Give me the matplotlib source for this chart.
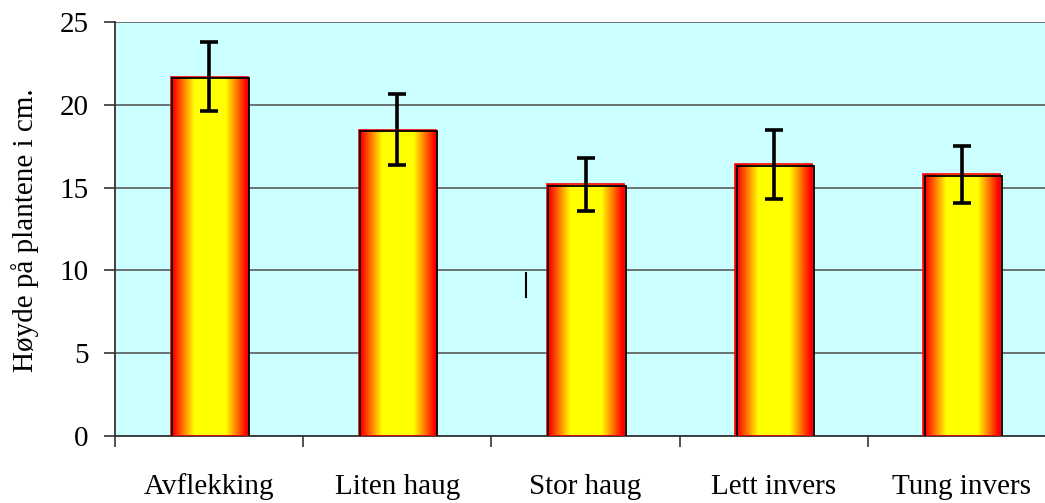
import numpy as np
import matplotlib
matplotlib.use("Agg")
import matplotlib.pyplot as plt
from matplotlib.colors import LinearSegmentedColormap
from matplotlib.patches import Rectangle
import matplotlib.transforms as mtransforms

categories = ["Avflekking", "Liten haug", "Stor haug", "Lett invers", "Tung invers"]
heights = [21.7, 18.5, 15.2, 16.4, 15.8]
errors = [2.1, 2.15, 1.6, 2.1, 1.7]
y_ticks = [0, 5, 10, 15, 20, 25]
stray_mark_x = 1.686
stray_mark_y = [8.4, 9.85]

plt.rcParams['font.family'] = ['Liberation Serif', 'DejaVu Serif']

fig = plt.figure(figsize=(10.45, 5.03), dpi=100)
ax = fig.add_axes([115/1045, 67/503, 941/1045, 414/503])
ax.set_facecolor('#CCFFFF')

x = np.arange(len(categories))
width = 0.41

cmap = LinearSegmentedColormap.from_list('rg', ['#FF0000', '#FF8000', '#FFFF00'])
t = np.linspace(0, 1, 256)
prof = 1 - np.abs(2 * t - 1)
grad = np.clip((prof - 0.06) / 0.54, 0, 1)[None, :]

bars = ax.bar(x, heights, width=width, facecolor='none', edgecolor='#FF0000',
              linewidth=1.2, zorder=3)
for b in bars:
    x0, y0 = b.get_x(), b.get_y()
    w, h = b.get_width(), b.get_height()
    im = ax.imshow(grad, extent=[x0, x0 + w, y0, y0 + h], aspect='auto',
                   cmap=cmap, vmin=0, vmax=1, zorder=2, interpolation='bilinear')
    im.set_clip_path(b)
    off = mtransforms.offset_copy(ax.transData, fig=fig, x=1.5, y=-1.5, units='dots')
    r = Rectangle((x0, y0), w, h, facecolor='none', edgecolor='black',
                  linewidth=1.3, transform=off, zorder=4)
    ax.add_patch(r)

ax.errorbar(x, heights, yerr=errors, fmt='none', ecolor='black', elinewidth=2.6,
            capsize=6.5, capthick=2.6, zorder=5)

ax.plot([stray_mark_x, stray_mark_x], stray_mark_y, color='black', lw=1.5, zorder=5)

ax.set_xlim(-0.5, len(categories) - 0.5)
ax.set_ylim(0, 25)
ax.set_yticks(y_ticks)
ax.yaxis.grid(True, color='#5a5a5a', linewidth=1.2, zorder=1)
ax.set_axisbelow(True)

ax.set_xticks(np.arange(len(categories) + 1) - 0.5, minor=False)
ax.set_xticklabels([])
ax.set_xticks(x, minor=True)
ax.set_xticklabels(categories, minor=True)
ax.tick_params(axis='x', which='major', length=8, width=1.2, color='#333333', direction='out')
ax.tick_params(axis='x', which='minor', length=0, pad=27, labelsize=21)
ax.tick_params(axis='y', length=8, width=1.2, color='#333333', direction='out', pad=11, labelsize=21)

for s in ['top', 'right']:
    ax.spines[s].set_visible(False)
ax.spines['left'].set_color('#333333')
ax.spines['left'].set_linewidth(1.3)
ax.spines['bottom'].set_color('#333333')
ax.spines['bottom'].set_linewidth(1.3)

fig.text(25/1045, 1 - 230/503, "Høyde på plantene i cm.", rotation=90,
         ha='center', va='center', fontsize=21)

fig.savefig('out.png', dpi=100)
